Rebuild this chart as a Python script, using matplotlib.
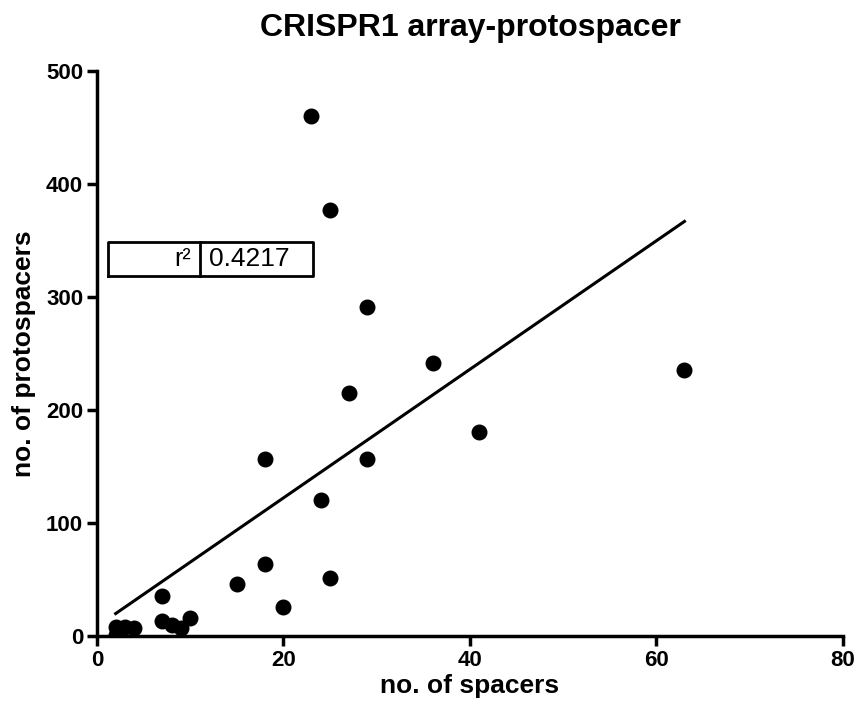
import numpy as np
import matplotlib.pyplot as plt

plt.rcParams['font.family'] = ['Liberation Sans', 'DejaVu Sans']

# spacers vs protospacers per CRISPR1 array
spacers = [2, 2, 3, 4, 7, 7, 8, 9, 10, 15, 18, 18, 20, 23, 24, 25, 25, 27, 29, 29, 36, 41, 63]
protospacers = [8, 1, 8, 7, 35, 13, 10, 7, 16, 46, 64, 157, 26, 460, 120, 377, 51, 215, 291, 157, 242, 181, 235]
r2_label = "0.4217"

x = np.array(spacers)
y = np.array(protospacers)

fig = plt.figure(figsize=(8.6, 7.19), dpi=100)
ax = fig.add_axes([0.1128, 0.1154, 0.8674, 0.7858])

ax.scatter(x, y, s=110, color='black', zorder=3)

# linear fit over the range of the data
slope, icpt = np.polyfit(x, y, 1)
xs = np.array([x.min(), x.max()])
ax.plot(xs, slope * xs + icpt, color='black', lw=2.2)

# r² box
bx0, bx1, bx2 = 1.2, 11.0, 23.2
by0, by1 = 318.5, 348.5
ax.plot([bx0, bx2, bx2, bx0, bx0], [by0, by0, by1, by1, by0], color='black', lw=2, clip_on=False)
ax.plot([bx1, bx1], [by0, by1], color='black', lw=2)
ax.text(bx1 - 0.9, (by0 + by1) / 2, "r²", ha='right', va='center', fontsize=18)
ax.text(bx1 + 1.0, (by0 + by1) / 2, r2_label, ha='left', va='center', fontsize=19)

ax.set_xlim(0, 80)
ax.set_ylim(0, 500)
ax.set_xticks([0, 20, 40, 60, 80])
ax.set_yticks([0, 100, 200, 300, 400, 500])
for s in ['top', 'right']:
    ax.spines[s].set_visible(False)
for s in ['left', 'bottom']:
    ax.spines[s].set_linewidth(2.5)
ax.tick_params(width=2.5, length=7, labelsize=16, direction='out', pad=3)
for lab in ax.get_xticklabels() + ax.get_yticklabels():
    lab.set_fontweight('bold')

ax.set_xlabel("no. of spacers", fontsize=19, fontweight='bold', labelpad=2)
ax.set_ylabel("no. of protospacers", fontsize=19, fontweight='bold', labelpad=7)
ax.set_title("CRISPR1 array-protospacer", fontsize=23, fontweight='bold', pad=25)

fig.savefig("out.png", dpi=100)
